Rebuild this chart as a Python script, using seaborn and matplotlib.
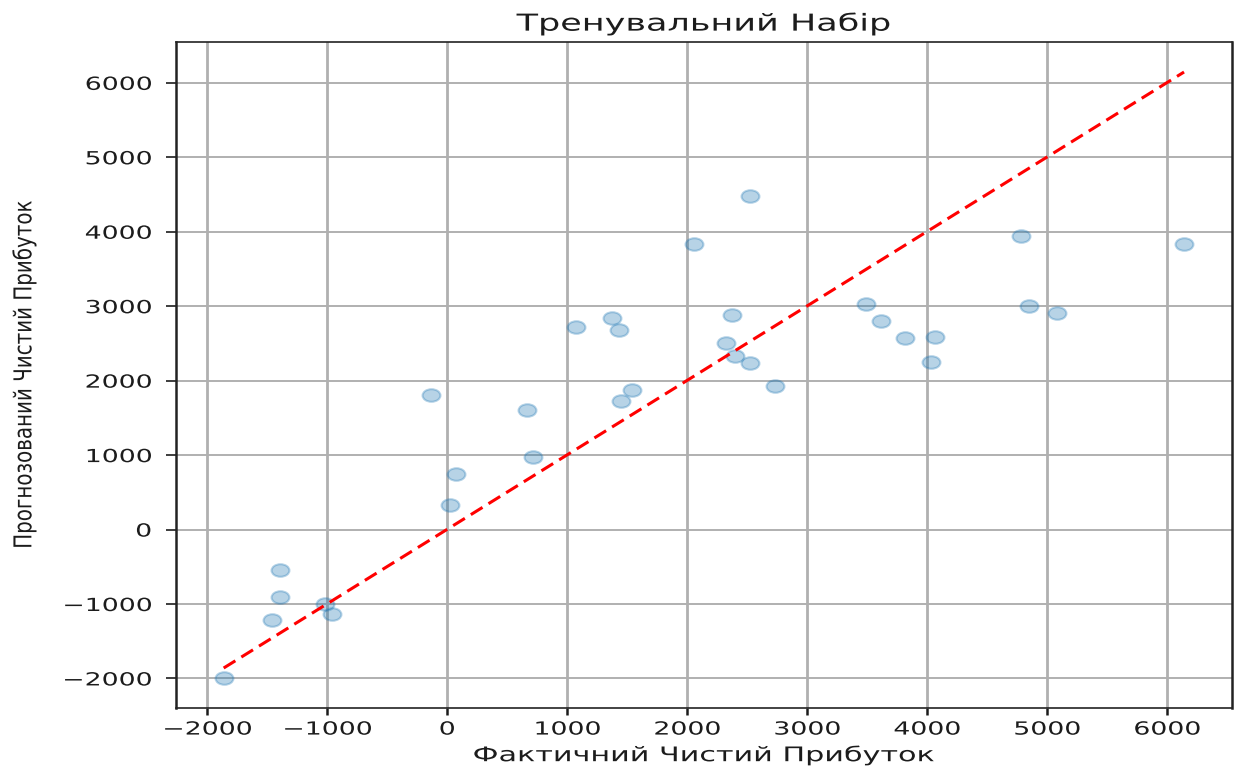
import numpy as np
import pandas as pd
import matplotlib
matplotlib.use("Agg")
import matplotlib.pyplot as plt
from matplotlib.path import Path
from matplotlib.patheffects import AbstractPathEffect
from matplotlib.transforms import Affine2D
import seaborn as sns

# Training-set results: actual vs predicted net profit
actual = [-1860, -1457, -1390, -1390, -1016, -958, -133, 25, 75, 666, 716,
          1074, 1374, 1432, 1449, 1540, 2057, 2323, 2373, 2398, 2523, 2523,
          2739, 3497, 3622, 3822, 4038, 4072, 4788, 4854, 5087, 6145]
predicted = [-1991, -1213, -905, -543, -999, -1133, 1803, 328, 744, 1602, 972,
             2714, 2848, 2674, 1722, 1870, 3840, 2500, 2875, 2326, 4484, 2232,
             1924, 3023, 2795, 2567, 2245, 2580, 3948, 3009, 2902, 3840]

x_ticks = [-2000, -1000, 0, 1000, 2000, 3000, 4000, 5000, 6000]
y_ticks = [-2000, -1000, 0, 1000, 2000, 3000, 4000, 5000, 6000]

title = "Тренувальний Набір"
x_label = "Фактичний Чистий Прибуток"
y_label = "Прогнозований Чистий Прибуток"

df = pd.DataFrame({"actual": actual, "predicted": predicted})


class StretchX(AbstractPathEffect):
    """Widen rendered text horizontally around a chosen anchor."""

    def __init__(self, sx, anchor="center"):
        super().__init__()
        self.sx = sx
        self.anchor = anchor

    def draw_path(self, renderer, gc, tpath, affine, rgbFace=None):
        verts = affine.transform(tpath.vertices)
        if len(verts) == 0:
            return
        xmin, xmax = verts[:, 0].min(), verts[:, 0].max()
        cx = {"center": (xmin + xmax) / 2, "right": xmax, "left": xmin}[self.anchor]
        stretched = affine + Affine2D().translate(-cx, 0).scale(self.sx, 1).translate(cx, 0)
        renderer.draw_path(gc, tpath, stretched, rgbFace)


sns.set_style("ticks")
plt.rcParams["font.family"] = ["DejaVu Sans"]
text_color = "#1c1c1c"

fig = plt.figure(figsize=(12.37, 7.73), dpi=100)
ax = fig.add_axes([0.142, 0.084, 0.854, 0.862])

# slightly wide ellipse marker
ellipse = Path.unit_circle().transformed(Affine2D().scale(1.42, 1.0))

sns.scatterplot(data=df, x="actual", y="predicted", ax=ax, color="#1f77b4",
                alpha=0.32, s=165, marker=ellipse, edgecolor="#1f77b4",
                linewidth=1.5)

lo, hi = min(actual), max(actual)
ax.plot([lo, hi], [lo, hi], "r--", lw=2.2, dashes=(4.5, 2.3))

ax.set_xticks(x_ticks)
ax.set_yticks(y_ticks)

ax.xaxis.grid(True, color="#b0b0b0", lw=2.0)
ax.yaxis.grid(True, color="#b0b0b0", lw=1.4)
ax.set_axisbelow(True)
for name, sp in ax.spines.items():
    sp.set_visible(True)
    sp.set_color("#222222")
    sp.set_linewidth(1.8 if name in ("left", "right") else 1.2)

ax.tick_params(axis="x", labelsize=13, length=5, width=1.8, pad=4,
               colors=text_color)
ax.tick_params(axis="y", labelsize=13, length=7.5, width=1.2, pad=10,
               colors=text_color)

for tick in ax.xaxis.get_major_ticks():
    tick.label1.set_path_effects([StretchX(1.48, "center")])
for tick in ax.yaxis.get_major_ticks():
    tick.label1.set_path_effects([StretchX(1.48, "right")])

t = ax.set_title(title, fontsize=16.8, pad=8, color=text_color)
t.set_path_effects([StretchX(1.5, "center")])
xl = ax.set_xlabel(x_label, fontsize=14.5, labelpad=5, color=text_color)
xl.set_path_effects([StretchX(1.5, "center")])
yl = ax.set_ylabel(y_label, fontsize=14.3, labelpad=41, color=text_color)
yl.set_path_effects([StretchX(1.24, "center")])

fig.savefig("out.png", dpi=100)
